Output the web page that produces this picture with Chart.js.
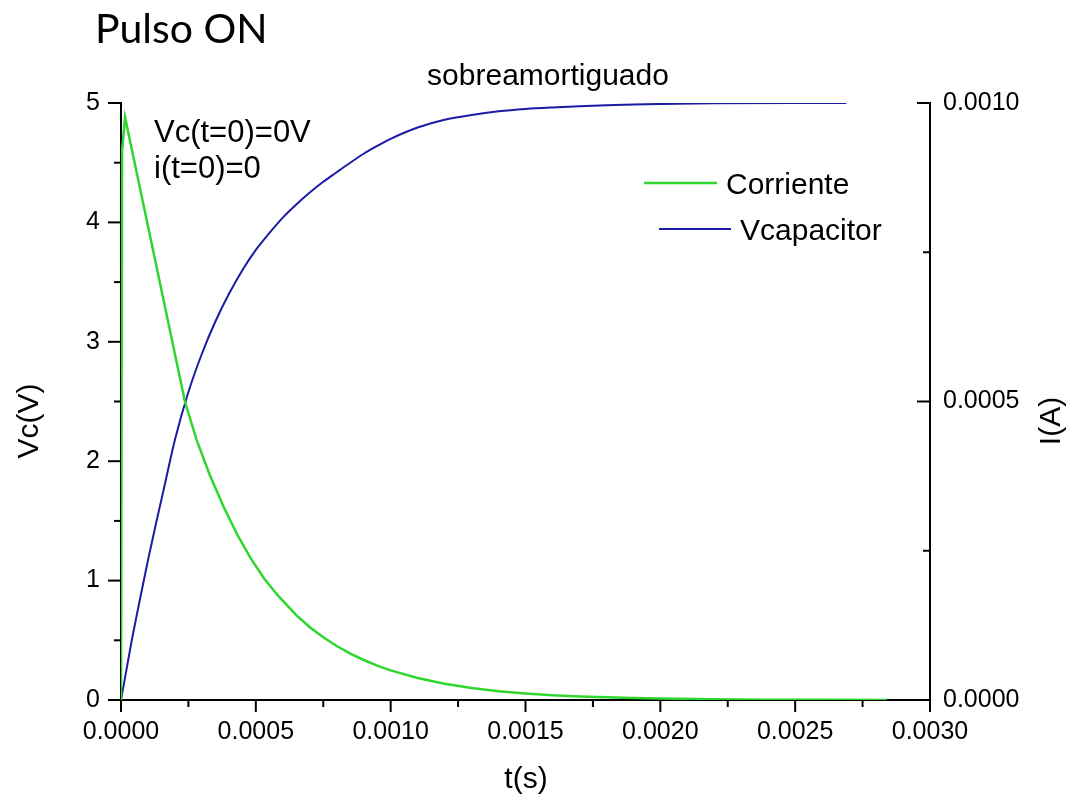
<!DOCTYPE html>
<html><head><meta charset="utf-8">
<script src="https://cdn.jsdelivr.net/npm/chart.js@4/dist/chart.umd.min.js"></script>
<style>html,body{margin:0;padding:0;background:#fff;overflow:hidden}#wrap{position:relative;width:1069px;height:799px}canvas{display:block}</style>
</head><body><div id="wrap"><canvas id="c" width="1069" height="799"></canvas></div>
<script>
// ---- data ----
const tCorriente = [0, 0.000004, 0.000015, 0.000237, 0.00028, 0.00033, 0.00038, 0.00043, 0.00048, 0.00053, 0.00058, 0.00065, 0.0007, 0.00075, 0.0008, 0.00085, 0.0009, 0.00095, 0.001, 0.0011, 0.0012, 0.0013, 0.0014, 0.0015, 0.0016, 0.0017, 0.0018, 0.0019, 0.002, 0.0022, 0.0024, 0.0026, 0.00284];
const iCorriente = [0, 0.00092, 0.000976, 0.0005, 0.000436, 0.000376, 0.000324, 0.000278, 0.000238, 0.000204, 0.000176, 0.000142, 0.000122, 0.000105, 0.0000904, 0.0000778, 0.000067, 0.0000576, 0.0000496, 0.0000368, 0.0000272, 0.00002, 0.0000148, 0.000011, 0.000008, 0.000006, 0.0000044, 0.0000032, 0.0000024, 0.0000012, 0.0000006, 0.0000003, 0];
const tVcap = [0, 0.00002, 0.00004, 0.00006, 0.00008, 0.0001, 0.00013, 0.00016, 0.0002, 0.00025, 0.0003, 0.00035, 0.0004, 0.00045, 0.0005, 0.00055, 0.0006, 0.00065, 0.0007, 0.00075, 0.0008, 0.00085, 0.0009, 0.00095, 0.001, 0.0011, 0.0012, 0.0013, 0.0014, 0.0015, 0.0016, 0.0017, 0.0018, 0.0019, 0.002, 0.0022, 0.0025, 0.00269];
const vCapacitor = [0, 0.25, 0.5, 0.73, 0.95, 1.17, 1.48, 1.78, 2.18, 2.58, 2.9, 3.17, 3.4, 3.6, 3.77, 3.91, 4.04, 4.15, 4.25, 4.34, 4.42, 4.5, 4.575, 4.64, 4.7, 4.795, 4.86, 4.9, 4.93, 4.95, 4.963, 4.973, 4.981, 4.987, 4.992, 4.998, 5.0, 5.0];
const xTicks = [0, 0.0005, 0.0010, 0.0015, 0.0020, 0.0025, 0.0030];
const vTicks = [0, 1, 2, 3, 4, 5];
const iTicks = [0, 0.0005, 0.0010];
const seriesNames = ['Corriente', 'Vcapacitor'];
const chartTitle = 'Pulso ON';
const chartSubtitle = 'sobreamortiguado';
const xTitle = 't(s)', yTitle = 'Vc(V)', y2Title = 'I(A)';
const notes = ['Vc(t=0)=0V', 'i(t=0)=0'];

const GREEN = '#2fd62f', BLUE = '#1b1ba6';
const FAM = "'Liberation Sans', Arial, sans-serif";

function minorOf(arr){ const out=[]; for(let i=0;i<arr.length-1;i++) out.push((arr[i]+arr[i+1])/2); return out; }

const decor = {
  id: 'decor',
  afterDraw(chart){
    const ctx = chart.ctx, ca = chart.chartArea;
    const sx = chart.scales.x, sy = chart.scales.y, sy1 = chart.scales.y1;
    ctx.save();
    ctx.strokeStyle = '#000'; ctx.lineWidth = 2; ctx.lineCap = 'butt';
    const line=(a,b,c,d)=>{ctx.beginPath();ctx.moveTo(a,b);ctx.lineTo(c,d);ctx.stroke();};
    vTicks.forEach(v=>{const y=sy.getPixelForValue(v); line(ca.left-13,y,ca.left,y);});
    minorOf(vTicks).forEach(v=>{const y=sy.getPixelForValue(v); line(ca.left-7,y,ca.left,y);});
    xTicks.forEach(v=>{const x=sx.getPixelForValue(v); line(x,ca.bottom,x,ca.bottom+12);});
    minorOf(xTicks).forEach(v=>{const x=sx.getPixelForValue(v); line(x,ca.bottom,x,ca.bottom+7);});
    iTicks.forEach(v=>{const y=sy1.getPixelForValue(v); line(ca.right-13,y,ca.right,y);});
    minorOf(iTicks).forEach(v=>{const y=sy1.getPixelForValue(v); line(ca.right-7,y,ca.right,y);});

    ctx.fillStyle = '#000';
    ctx.textBaseline = 'alphabetic';
    ctx.font = "41px Lato, 'Open Sans', sans-serif";
    ctx.textAlign = 'left';
    ctx.fillText(chartTitle, 95, 43);
    ctx.font = '30px ' + FAM;
    ctx.textAlign = 'center';
    ctx.fillText(chartSubtitle, 548, 85);
    ctx.textAlign = 'left';
    ctx.font = '31px ' + FAM;
    ctx.fillText(notes[0], 154, 142);
    ctx.fillText(notes[1], 154, 178);
    ctx.font = '30px ' + FAM;
    ctx.lineWidth = 2.5;
    ctx.strokeStyle = GREEN; line(644,183,717,183);
    ctx.strokeStyle = BLUE; ctx.lineWidth = 2; line(659,229,731,229);
    ctx.fillText(seriesNames[0], 726, 194);
    ctx.fillText(seriesNames[1], 740, 240);
    ctx.textAlign = 'center';
    ctx.fillText(xTitle, 526, 788);
    ctx.textBaseline = 'middle';
    ctx.save(); ctx.translate(30, 421); ctx.rotate(-Math.PI/2); ctx.fillText(yTitle, 0, 0); ctx.restore();
    ctx.save(); ctx.translate(1052, 421); ctx.rotate(-Math.PI/2); ctx.fillText(y2Title, 0, 0); ctx.restore();
    ctx.restore();
  }
};

const tickFont = {family: FAM, size: 25};
new Chart(document.getElementById('c'), {
  type: 'line',
  data: {
    datasets: [
      {label: seriesNames[0], data: tCorriente.map((t,i)=>({x:t,y:iCorriente[i]})), yAxisID:'y1',
       borderColor: GREEN, borderWidth: 2.5, pointRadius: 0, fill:false, tension: 0},
      {label: seriesNames[1], data: tVcap.map((t,i)=>({x:t,y:vCapacitor[i]})), yAxisID:'y',
       borderColor: BLUE, borderWidth: 2, pointRadius: 0, fill:false, cubicInterpolationMode:'monotone'}
    ]
  },
  options: {
    responsive: false, animation: false, devicePixelRatio: 1,
    layout: {padding: {top: 103, left: 0, right: 0, bottom: 0}},
    plugins: {legend: {display: false}, tooltip: {enabled: false}, title: {display: false}},
    scales: {
      x: {type: 'linear', position: 'bottom', min: 0, max: 0.003,
        afterBuildTicks: s => { s.ticks = xTicks.map(v => ({value: v})); },
        ticks: {callback: v => Number(v).toFixed(4), font: tickFont, color: '#000', padding: 5, maxRotation: 0, autoSkip: false},
        grid: {drawOnChartArea: false, drawTicks: true, tickLength: 12, color: 'rgba(0,0,0,0)'},
        border: {display: true, color: '#000', width: 2},
        afterFit: s => { s.height = 99; }},
      y: {type: 'linear', position: 'left', min: 0, max: 5,
        afterBuildTicks: s => { s.ticks = vTicks.map(v => ({value: v})); },
        ticks: {callback: v => String(v), font: tickFont, color: '#000', padding: 8},
        grid: {drawOnChartArea: false, drawTicks: true, tickLength: 13, color: 'rgba(0,0,0,0)'},
        border: {display: true, color: '#000', width: 2},
        afterFit: s => { s.width = 121; }},
      y1: {type: 'linear', position: 'right', min: 0, max: 0.001,
        afterBuildTicks: s => { s.ticks = iTicks.map(v => ({value: v})); },
        ticks: {callback: v => Number(v).toFixed(4), font: tickFont, color: '#000', padding: 7},
        grid: {drawOnChartArea: false, drawTicks: true, tickLength: 6, color: 'rgba(0,0,0,0)'},
        border: {display: true, color: '#000', width: 2},
        afterFit: s => { s.width = 139; }}
    }
  },
  plugins: [decor]
});
</script></body></html>
